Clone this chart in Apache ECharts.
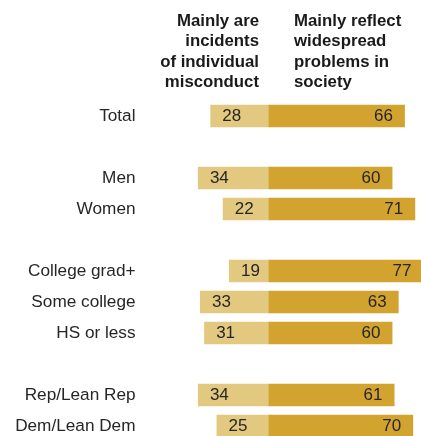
<!DOCTYPE html>
<html>
<head>
<meta charset="utf-8">
<script src="https://cdn.jsdelivr.net/npm/echarts@6/dist/echarts.min.js"></script>
<style>
  html, body { margin: 0; padding: 0; background: #fff; }
  #chart { width: 421px; height: 436px; }
</style>
</head>
<body>
<div id="chart"></div>
<script>
  // blank entries are the gaps between groups
  const categories = ['Total', '', 'Men', 'Women', '', 'College grad+', 'Some college', 'HS or less', '', 'Rep/Lean Rep', 'Dem/Lean Dem'];
  const individual = [28, null, 34, 22, null, 19, 33, 31, null, 34, 25];
  const society = [66, null, 60, 71, null, 77, 63, 60, null, 61, 70];
  const leftHeader = ['Mainly are', 'incidents', 'of individual', 'misconduct'];
  const rightHeader = ['Mainly reflect', 'widespread', 'problems in', 'society'];

  const font = '"Liberation Sans", Arial, sans-serif';
  const chart = echarts.init(document.getElementById('chart'));

  chart.setOption({
    backgroundColor: '#fff',
    animation: false,
    grid: {
      left: 185.5,
      top: 100.5,
      width: 238,
      height: 341,
      outerBoundsMode: 'none'
    },
    xAxis: {
      type: 'value',
      min: -40,
      max: 75,
      show: false
    },
    yAxis: {
      type: 'category',
      inverse: true,
      data: categories,
      axisLine: { show: false },
      axisTick: { show: false },
      axisLabel: {
        margin: 50,
        fontFamily: font,
        fontSize: 17.2,
        color: '#262626'
      }
    },
    graphic: [
      {
        type: 'text',
        x: 259,
        y: 11,
        style: {
          text: leftHeader.join('\n'),
          align: 'right',
          verticalAlign: 'top',
          lineHeight: 20.5,
          font: 'bold 16.8px ' + font,
          fill: '#1a1a1a'
        }
      },
      {
        type: 'text',
        x: 294,
        y: 11,
        style: {
          text: rightHeader.join('\n'),
          align: 'left',
          verticalAlign: 'top',
          lineHeight: 20.5,
          font: 'bold 16.8px ' + font,
          fill: '#1a1a1a'
        }
      }
    ],
    series: [
      {
        name: 'individual',
        type: 'bar',
        stack: 'a',
        barWidth: 22.5,
        data: individual.map(v => v == null ? null : -v),
        itemStyle: { color: '#E3C87F' },
        label: {
          show: true,
          position: 'insideLeft',
          distance: 12,
          formatter: p => Math.abs(p.value),
          fontFamily: font,
          fontSize: 17,
          color: '#262626'
        }
      },
      {
        name: 'society',
        type: 'bar',
        stack: 'a',
        barWidth: 22.5,
        data: society,
        itemStyle: { color: '#D3A32F' },
        label: {
          show: true,
          position: 'insideRight',
          distance: 12,
          fontFamily: font,
          fontSize: 17,
          color: '#262626'
        }
      }
    ]
  });
</script>
</body>
</html>
